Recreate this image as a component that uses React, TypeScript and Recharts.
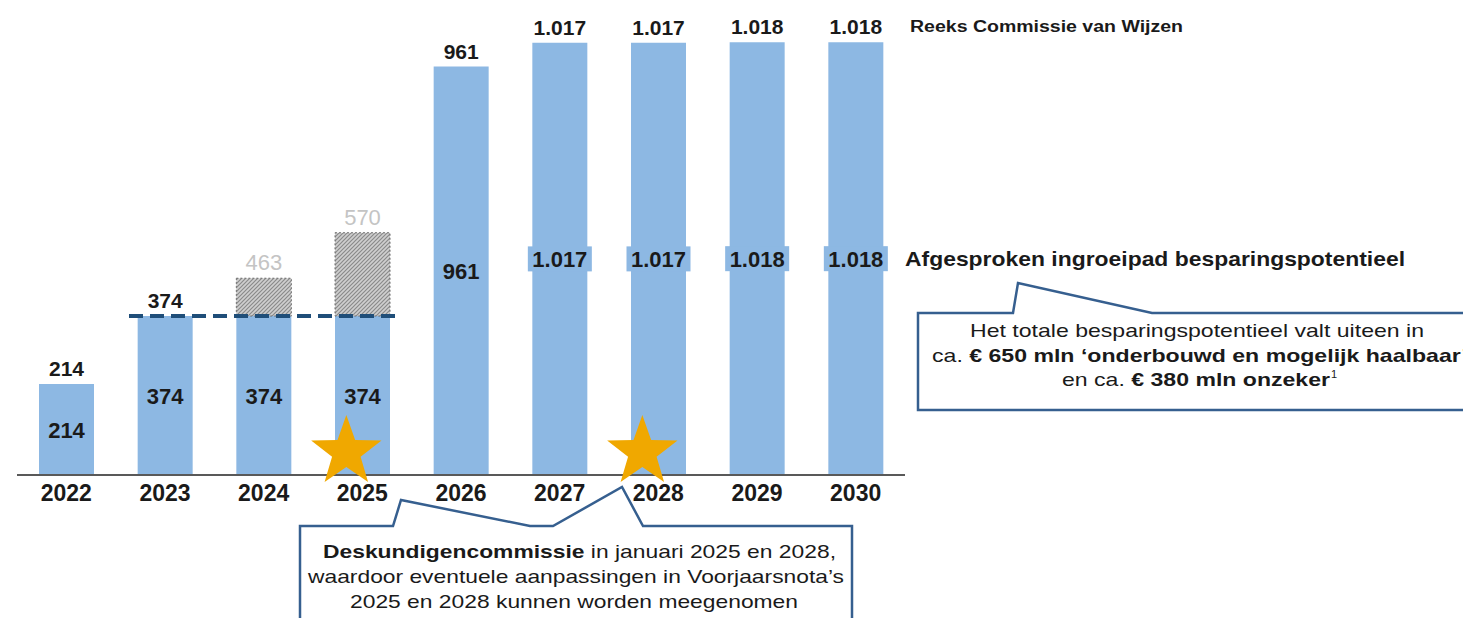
import React from "react";
import {
  BarChart,
  Bar,
  XAxis,
  YAxis,
  LabelList,
  ReferenceLine,
  ReferenceDot,
} from "recharts";

// jaren en reeksen (mln euro)
const years = ["2022", "2023", "2024", "2025", "2026", "2027", "2028", "2029", "2030"];
const agreedPath = [214, 374, 374, 374, 961, 1017, 1017, 1018, 1018]; // afgesproken ingroeipad
const commissionSeries = [214, 374, 463, 570, 961, 1017, 1017, 1018, 1018]; // reeks Commissie van Wijzen
const starYears = ["2025", "2028"]; // deskundigencommissie
const flatLineYears = ["2023", "2025"];
const flatLineValue = 374;

const data = years.map((year, i) => ({
  year,
  agreed: agreedPath[i],
  extra: commissionSeries[i] - agreedPath[i],
  total: commissionSeries[i],
}));

const FONT = "'Liberation Sans', Arial, sans-serif";
const BAR_BLUE = "#8db8e3";
const LINE_BLUE = "#365f8f";

const fmt = (v: number): string =>
  v >= 1000 ? `${Math.floor(v / 1000)}.${String(v % 1000).padStart(3, "0")}` : String(v);

const YearTick = (props: any) => {
  const { x, y, payload } = props;
  return (
    <text x={x} y={y + 18} textAnchor="middle" fontFamily={FONT} fontWeight="bold" fontSize={23} fill="#1a1a1a">
      {payload.value}
    </text>
  );
};

const InsideLabel = (props: any) => {
  const { x, y, width, height, value } = props;
  const cx = x + width / 2;
  const cy = y + height / 2;
  return (
    <g>
      {value >= 1000 && <rect x={cx - 32} y={cy - 12.5} width={64} height={25} fill={BAR_BLUE} />}
      <text x={cx} y={cy + 8} textAnchor="middle" fontFamily={FONT} fontWeight="bold" fontSize={22} fill="#1a1a1a">
        {fmt(value)}
      </text>
    </g>
  );
};

// label boven de kolom: zwart als reeks gelijk is, anders grijs boven het gearceerde deel
const TopLabel = (props: any) => {
  const { x, y, width, height, index } = props;
  const d = data[index];
  if (!d) return null;
  if (d.extra > 0) {
    const pxPerUnit = height / d.agreed;
    return (
      <text
        x={x + width / 2}
        y={y - d.extra * pxPerUnit - 8}
        textAnchor="middle"
        fontFamily={FONT}
        fontSize={22}
        fill="#c4c4c4"
      >
        {fmt(d.total)}
      </text>
    );
  }
  return (
    <text x={x + width / 2} y={y - 8} textAnchor="middle" fontFamily={FONT} fontWeight="bold" fontSize={21} fill="#1a1a1a">
      {fmt(d.total)}
    </text>
  );
};

const Star = (props: any) => {
  const { cx, cy } = props;
  const R = 37;
  const r = 15;
  const pts: string[] = [];
  for (let k = 0; k < 10; k++) {
    const rad = k % 2 === 0 ? R : r;
    const a = -Math.PI / 2 + (k * Math.PI) / 5;
    pts.push(`${cx - 16 + rad * Math.cos(a)},${cy + rad * Math.sin(a)}`);
  }
  return <polygon points={pts.join(" ")} fill="#f0a800" />;
};

const WideDash = (props: any) => {
  const { x1, y1, x2, y2 } = props;
  return (
    <line x1={x1 - 36} y1={y1} x2={x2 + 36} y2={y2} stroke="#1f4e79" strokeWidth={4} strokeDasharray="14 7" />
  );
};

export default function App() {
  return (
    <div style={{ position: "absolute", left: 0, top: 0, width: 1463, height: 618, background: "#fff" }}>
      <BarChart
        width={1463}
        height={618}
        data={data}
        margin={{ top: 7.5, right: 558, bottom: 113, left: 17 }}
      >
        <defs>
          <pattern id="hatch" patternUnits="userSpaceOnUse" width="4" height="4">
            <rect width="4" height="4" fill="#cfcfcf" />
            <path d="M0,4 L4,0 M-1,1 L1,-1 M3,5 L5,3" stroke="#8a8a8a" strokeWidth={1.2} />
          </pattern>
        </defs>
        <XAxis
          dataKey="year"
          height={30}
          axisLine={{ stroke: "#595959", strokeWidth: 2 }}
          tickLine={false}
          tick={<YearTick />}
          interval={0}
        />
        <YAxis hide domain={[0, 1100]} />
        <Bar dataKey="agreed" stackId="a" fill={BAR_BLUE} barSize={55} isAnimationActive={false}>
          <LabelList dataKey="agreed" content={<InsideLabel />} />
          <LabelList dataKey="agreed" content={<TopLabel />} />
        </Bar>
        <Bar
          dataKey="extra"
          stackId="a"
          fill="url(#hatch)"
          stroke="#6f6f6f"
          strokeDasharray="2 2"
          strokeWidth={1}
          barSize={55}
          isAnimationActive={false}
        />
        <ReferenceLine
          segment={[
            { x: flatLineYears[0], y: flatLineValue },
            { x: flatLineYears[1], y: flatLineValue },
          ]}
          shape={<WideDash />}
        />
        {starYears.map((y) => (
          <ReferenceDot key={y} x={y} y={54} r={37} shape={<Star />} />
        ))}
      </BarChart>

      <svg
        width={1463}
        height={618}
        style={{ position: "absolute", left: 0, top: 0, pointerEvents: "none" }}
      >
        <text x={910} y={32} fontFamily={FONT} fontWeight="bold" fontSize={16} fill="#1a1a1a" textLength={273} lengthAdjust="spacingAndGlyphs">
          Reeks Commissie van Wijzen
        </text>
        <text x={905} y={266} fontFamily={FONT} fontWeight="bold" fontSize={21} fill="#1a1a1a" textLength={500} lengthAdjust="spacingAndGlyphs">
          Afgesproken ingroeipad besparingspotentieel
        </text>

        <path
          d="M918,313 L1013,313 L1018,283 L1152,313 L1475,313 L1475,410 L918,410 Z"
          fill="#fff"
          stroke={LINE_BLUE}
          strokeWidth={2.5}
        />
        <text x={970} y={337} fontFamily={FONT} fontSize={19} fill="#1a1a1a" textLength={454} lengthAdjust="spacingAndGlyphs">
          Het totale besparingspotentieel valt uiteen in
        </text>
        <text x={932} y={362} fontFamily={FONT} fontSize={19} fill="#1a1a1a" textLength={536} lengthAdjust="spacingAndGlyphs">
          ca. <tspan fontWeight="bold">€ 650 mln ‘onderbouwd en mogelijk haalbaar’</tspan>
        </text>
        <text x={1062} y={386} fontFamily={FONT} fontSize={19} fill="#1a1a1a" textLength={268} lengthAdjust="spacingAndGlyphs">
          en ca. <tspan fontWeight="bold">€ 380 mln onzeker</tspan>
        </text>
        <text x={1331} y={378} fontFamily={FONT} fontSize={11} fill="#1a1a1a">
          1
        </text>

        <path
          d="M300,526 L393,526 L401,500 L530,526 L553,526 L622,487 L643,526 L852,526 L852,630 L300,630 Z"
          fill="#fff"
          stroke={LINE_BLUE}
          strokeWidth={2.5}
        />
        <text x={323} y={558} fontFamily={FONT} fontSize={19} fill="#1a1a1a" textLength={513} lengthAdjust="spacingAndGlyphs">
          <tspan fontWeight="bold">Deskundigencommissie</tspan> in januari 2025 en 2028,
        </text>
        <text x={308} y={583} fontFamily={FONT} fontSize={19} fill="#1a1a1a" textLength={536} lengthAdjust="spacingAndGlyphs">
          waardoor eventuele aanpassingen in Voorjaarsnota’s
        </text>
        <text x={350} y={608} fontFamily={FONT} fontSize={19} fill="#1a1a1a" textLength={448} lengthAdjust="spacingAndGlyphs">
          2025 en 2028 kunnen worden meegenomen
        </text>
      </svg>
    </div>
  );
}
